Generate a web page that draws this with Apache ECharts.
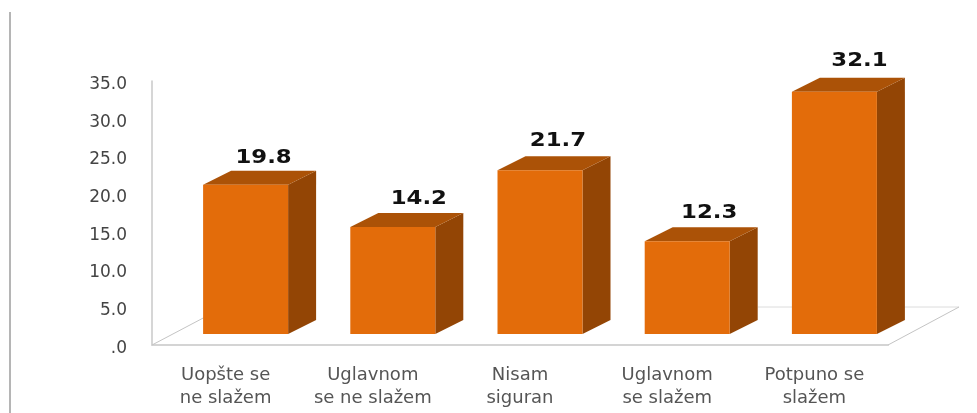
<!DOCTYPE html>
<html>
<head>
<meta charset="utf-8">
<script src="https://cdn.jsdelivr.net/npm/echarts@6/dist/echarts.min.js"></script>
<style>
  * {
    margin: 0;
    padding: 0;
  }
  body {
    background: #fff;
  }
  #chart-container {
    position: relative;
    width: 977px;
    height: 413px;
    overflow: hidden;
    filter: blur(0.4px);
  }
</style>
</head>
<body>
<div id="chart-container"></div>
<script>
  var categories = ['Uopšte se\nne slažem', 'Uglavnom\nse ne slažem', 'Nisam\nsiguran', 'Uglavnom\nse slažem', 'Potpuno se\nslažem']
  var values = [19.8, 14.2, 21.7, 12.3, 32.1]

  var FRONT = '#e36c0a'
  var SIDE = '#934505'
  var TOP = '#ab5207'
  var shiftX = 20
  var liftY = 11
  var barW = 85
  var depthX = 28
  var depthY = 14
  // labels do not sit at the same spot over each bar in the reference
  var labelDx = [18, 26, 18, 22, 25]
  var labelDy = [27, 28, 30, 28, 31]

  var myChart = echarts.init(document.getElementById('chart-container'), null, { renderer: 'canvas' })

  var option = {
    animation: false,
    backgroundColor: '#fff',
    grid: { left: 152, right: 89, top: 81, bottom: 68 },
    xAxis: {
      type: 'category',
      data: categories,
      axisLine: { lineStyle: { color: '#d4d4d4', width: 2 } },
      axisTick: { show: false },
      axisLabel: { color: '#555', fontFamily: 'DejaVu Sans', fontSize: 18, lineHeight: 23, margin: 19, interval: 0 },
    },
    yAxis: {
      type: 'value',
      min: 0,
      max: 35,
      interval: 5,
      axisLine: { show: true, lineStyle: { color: '#c8c8c8', width: 1.5 } },
      axisTick: { show: false },
      splitLine: { show: false },
      axisLabel: {
        color: '#444',
        fontFamily: 'DejaVu Sans',
        fontSize: 17,
        margin: 25,
        verticalAlign: 'top',
        lineHeight: 7,
        formatter: function (v) {
          return v === 0 ? '.0' : v.toFixed(1)
        },
      },
    },
    graphic: [
      // grey rule on the left of the slide
      { type: 'rect', shape: { x: 9, y: 12, width: 2, height: 401 }, style: { fill: '#b5b5b5' } },
    ],
    series: [
      {
        type: 'custom',
        coordinateSystem: 'cartesian2d',
        data: [0],
        silent: true,
        z: 1,
        renderItem: function (params, api) {
          // floor of the 3d box, back edge only shows near the right end
          var o = api.coord([0, 0])
          var left = api.coord([0, 0])[0] - api.size([1, 0])[0] / 2
          var right = api.coord([4, 0])[0] + api.size([1, 0])[0] / 2
          var line = { stroke: '#c4c4c4', lineWidth: 1, fill: null }
          return {
            type: 'group',
            children: [
              { type: 'line', shape: { x1: left, y1: o[1], x2: left + 55, y2: o[1] - 29 }, style: line },
              { type: 'line', shape: { x1: right - 130, y1: o[1] - 38, x2: right + 71, y2: o[1] - 38 }, style: { stroke: '#dcdcdc', lineWidth: 1 } },
              { type: 'line', shape: { x1: right, y1: o[1], x2: right + 71, y2: o[1] - 38 }, style: line },
            ],
          }
        },
      },
      {
        type: 'custom',
        coordinateSystem: 'cartesian2d',
        data: values.map(function (v, i) {
          return [i, v]
        }),
        encode: { x: 0, y: 1 },
        silent: true,
        z: 3,
        renderItem: function (params, api) {
          var p = api.coord([api.value(0), api.value(1)])
          var base = api.coord([api.value(0), 0])
          var x0 = p[0] + shiftX - barW / 2
          var x1 = x0 + barW
          var top = p[1] - liftY
          var bottom = base[1] - liftY
          return {
            type: 'group',
            children: [
              {
                type: 'polygon',
                shape: { points: [[x1, top], [x1 + depthX, top - depthY], [x1 + depthX, bottom - depthY], [x1, bottom]] },
                style: { fill: SIDE },
              },
              {
                type: 'polygon',
                shape: { points: [[x0, top], [x0 + depthX, top - depthY], [x1 + depthX, top - depthY], [x1, top]] },
                style: { fill: TOP },
              },
              { type: 'rect', shape: { x: x0, y: top, width: barW, height: bottom - top }, style: { fill: FRONT } },
              {
                type: 'text',
                x: x0 + barW / 2 + labelDx[params.dataIndex],
                y: top - labelDy[params.dataIndex],
                scaleX: 1.14,
                style: {
                  text: api.value(1).toFixed(1),
                  fill: '#111',
                  font: 'bold 20px "DejaVu Sans"',
                  align: 'center',
                  verticalAlign: 'middle',
                },
              },
            ],
          }
        },
      },
    ],
  }
  myChart.setOption(option)
  window.addEventListener('resize', myChart.resize)
</script>
</body>
</html>
